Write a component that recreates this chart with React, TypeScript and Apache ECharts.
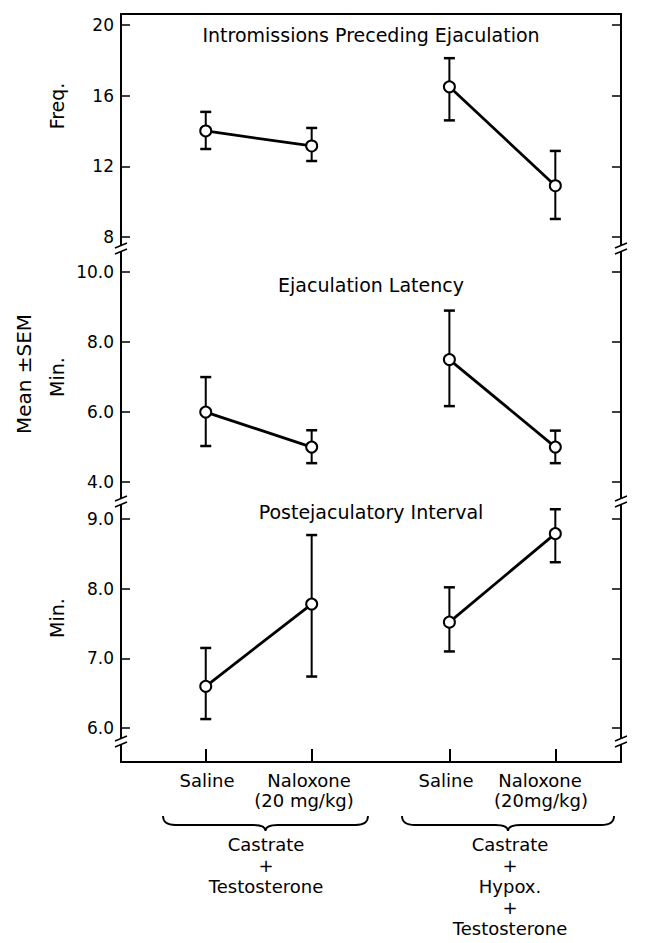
import React, { useEffect, useRef } from "react";
import * as echarts from "echarts";

// ---- data ----
const groupPositions = [1, 2, 3.3, 4.3];
const treatmentNames = ["Saline", "Naloxone", "Saline", "Naloxone"];
const doseLabels = ["", "(20 mg/kg)", "", "(20mg/kg)"];
const panelTitles = [
  "Intromissions Preceding Ejaculation",
  "Ejaculation Latency",
  "Postejaculatory Interval",
];
const panelUnits = ["Freq.", "Min.", "Min."];
const intromTicks = [8, 12, 16, 20];
const latencyTicks = [4, 6, 8, 10];
const pelTicks = [6, 7, 8, 9];

const intromMean = [14.0, 13.15, 16.5, 10.9];
const intromHigh = [15.08, 14.17, 18.12, 12.87];
const intromLow = [12.98, 12.3, 14.6, 9.02];

const latencyMean = [6.0, 5.0, 7.5, 5.0];
const latencyHigh = [7.0, 5.48, 8.9, 5.47];
const latencyLow = [5.03, 4.54, 6.17, 4.54];

const pelMean = [6.6, 7.78, 7.52, 8.79];
const pelHigh = [7.15, 8.77, 8.02, 9.14];
const pelLow = [6.13, 6.74, 7.1, 8.38];

const groupALines = ["Castrate", "+", "Testosterone"];
const groupBLines = ["Castrate", "+", "Hypox.", "+", "Testosterone"];

// ---- layout ----
const FONT = "DejaVu Sans";
const LEFT = 121;
const WIDTH = 500;
const X_MIN = 0.2;
const X_MAX = 4.92;
const panels = [
  { top: 14, height: 235, min: 7.32, max: 20.62, ticks: intromTicks, dec: 0, mean: intromMean, hi: intromHigh, lo: intromLow },
  { top: 249, height: 253, min: 3.43, max: 10.66, ticks: latencyTicks, dec: 1, mean: latencyMean, hi: latencyHigh, lo: latencyLow },
  { top: 502, height: 260, min: 5.514, max: 9.244, ticks: pelTicks, dec: 1, mean: pelMean, hi: pelHigh, lo: pelLow },
];

echarts.graphic.registerShape(
  "brace",
  echarts.graphic.extendPath(
    "M0 0 C0 6 4 9 12 9 L88 9 C96 9 100 11 100 15 C100 11 104 9 112 9 L188 9 C196 9 200 6 200 0",
    {}
  )
);

function buildOption() {
  const grid: any[] = [];
  const xAxis: any[] = [];
  const yAxis: any[] = [];
  const series: any[] = [];

  panels.forEach((p, i) => {
    grid.push({ left: LEFT, width: WIDTH, top: p.top, height: p.height });
    xAxis.push({
      type: "value",
      gridIndex: i,
      min: X_MIN,
      max: X_MAX,
      show: i !== 1,
      position: i === 0 ? "top" : "bottom",
      axisLine: { show: true, onZero: false, lineStyle: { color: "#000", width: 2 } },
      axisTick: {
        show: i === 2,
        inside: true,
        length: 13,
        customValues: groupPositions,
        lineStyle: { color: "#000", width: 2 },
      },
      axisLabel: { show: false },
      splitLine: { show: false },
    });
    const yCommon = {
      type: "value",
      gridIndex: i,
      min: p.min,
      max: p.max,
      splitLine: { show: false },
      axisLine: { show: true, lineStyle: { color: "#000", width: 2 } },
      axisTick: {
        show: true,
        inside: true,
        length: 9,
        customValues: p.ticks,
        lineStyle: { color: "#000", width: 1.5 },
      },
    };
    yAxis.push({
      ...yCommon,
      position: "left",
      axisLabel: {
        show: true,
        customValues: p.ticks,
        margin: 7,
        color: "#000",
        fontFamily: FONT,
        fontSize: 17,
        formatter: (v: number) => v.toFixed(p.dec),
      },
    });
    yAxis.push({
      ...yCommon,
      position: "right",
      axisLabel: { show: false },
    });

    const pts = groupPositions.map((x, k) => [x, p.mean[k]]);
    const lineStyle = { color: "#000", width: 2.8 };
    const itemStyle = { color: "#fff", borderColor: "#000", borderWidth: 2 };
    [pts.slice(0, 2), pts.slice(2, 4)].forEach((d) => {
      series.push({
        type: "line",
        xAxisIndex: i,
        yAxisIndex: i * 2,
        data: d,
        symbol: "circle",
        symbolSize: 11,
        showSymbol: true,
        lineStyle,
        itemStyle,
        z: 5,
      });
    });
    series.push({
      type: "custom",
      xAxisIndex: i,
      yAxisIndex: i * 2,
      z: 3,
      data: groupPositions.map((x, k) => [x, p.lo[k], p.hi[k]]),
      encode: { x: 0, y: [1, 2] },
      renderItem: (params: any, api: any) => {
        const x = api.value(0);
        const pLo = api.coord([x, api.value(1)]);
        const pHi = api.coord([x, api.value(2)]);
        const hw = 5.5;
        const st = { stroke: "#000", lineWidth: 2 };
        return {
          type: "group",
          children: [
            { type: "line", shape: { x1: pLo[0], y1: pLo[1], x2: pHi[0], y2: pHi[1] }, style: st },
            { type: "line", shape: { x1: pHi[0] - hw, y1: pHi[1], x2: pHi[0] + hw, y2: pHi[1] }, style: { ...st, lineWidth: 2.5 } },
            { type: "line", shape: { x1: pLo[0] - hw, y1: pLo[1], x2: pLo[0] + hw, y2: pLo[1] }, style: { ...st, lineWidth: 2.5 } },
          ],
        };
      },
    });
  });

  const txt = (text: string, x: number, y: number, size: number, rot = 0) => ({
    type: "text",
    x,
    y,
    rotation: rot,
    z: 10,
    style: {
      text,
      fill: "#000",
      font: `${size}px "${FONT}"`,
      align: "center",
      verticalAlign: "middle",
    },
  });

  const graphic: any[] = [];
  // panel titles
  const titleY = [35, 285, 512];
  panelTitles.forEach((t, i) => graphic.push(txt(t, 371, titleY[i], 19)));
  // units
  const unitY = [106, 377, 618];
  panelUnits.forEach((u, i) => graphic.push(txt(u, 57, unitY[i], 19, Math.PI / 2)));
  graphic.push(txt("Mean \u00B1SEM", 24, 374, 20, Math.PI / 2));

  // treatment labels
  const nameX = [207, 309, 446, 540];
  treatmentNames.forEach((n, k) => graphic.push(txt(n, nameX[k], 780, 18)));
  const doseX = [0, 304, 0, 541];
  doseLabels.forEach((d, k) => {
    if (d) graphic.push(txt(d, doseX[k], 800, 18));
  });
  // braces
  graphic.push({
    type: "brace",
    x: 163,
    y: 816,
    scaleX: 205 / 200,
    scaleY: 1,
    style: { stroke: "#000", fill: "none", lineWidth: 1.8 },
  });
  graphic.push({
    type: "brace",
    x: 402,
    y: 816,
    scaleX: 212 / 200,
    scaleY: 1,
    style: { stroke: "#000", fill: "none", lineWidth: 1.8 },
  });
  groupALines.forEach((t, k) => graphic.push(txt(t, 266, 844 + k * 21, 18)));
  groupBLines.forEach((t, k) => graphic.push(txt(t, 510, 844 + k * 21, 18)));

  // axis break marks
  const breakYs = [249, 502, 742];
  [LEFT, LEFT + WIDTH].forEach((ax) => {
    breakYs.forEach((by) => {
      graphic.push({
        type: "rect",
        shape: { x: ax - 3, y: by - 3, width: 6, height: 5 },
        style: { fill: "#fff" },
        z: 20,
      });
      graphic.push({
        type: "line",
        shape: { x1: ax - 6, y1: by - 1, x2: ax + 6, y2: by - 6 },
        style: { stroke: "#000", lineWidth: 1.5 },
        z: 21,
      });
      graphic.push({
        type: "line",
        shape: { x1: ax - 6, y1: by + 5, x2: ax + 6, y2: by },
        style: { stroke: "#000", lineWidth: 1.5 },
        z: 21,
      });
    });
  });

  return {
    animation: false,
    backgroundColor: "#fff",
    grid,
    xAxis,
    yAxis,
    series,
    graphic,
  };
}

export default function App() {
  const ref = useRef<HTMLDivElement>(null);
  useEffect(() => {
    if (!ref.current) return;
    const chart = echarts.init(ref.current, undefined, { renderer: "svg" });
    chart.setOption(buildOption() as any);
    return () => chart.dispose();
  }, []);
  return (
    <div
      ref={ref}
      style={{ position: "absolute", left: 0, top: 0, width: 646, height: 943 }}
    />
  );
}
